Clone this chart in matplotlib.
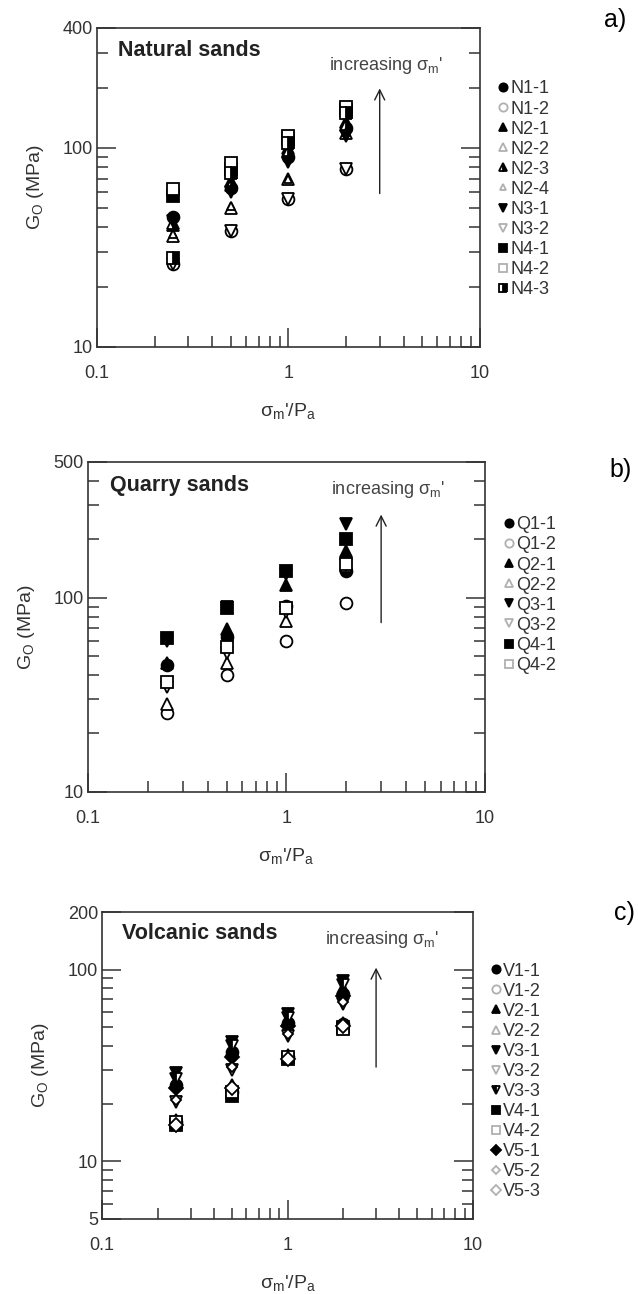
import matplotlib

matplotlib.use("Agg")
import matplotlib.pyplot as plt
from matplotlib.ticker import FixedLocator, FixedFormatter, NullFormatter

plt.rcParams.update({
    "font.family": ["Liberation Sans", "DejaVu Sans"],
    "mathtext.fontset": "custom",
    "mathtext.rm": "Liberation Sans",
    "mathtext.it": "Liberation Sans:italic",
    "mathtext.bf": "Liberation Sans:bold",
})

# normalised mean effective stress
stress = [0.25, 0.5, 1, 2]

# a) natural sands
nat_names = ["N1-1", "N1-2", "N2-1", "N2-2", "N2-3", "N2-4", "N3-1", "N3-2", "N4-1", "N4-2", "N4-3"]
nat_kinds = ["o_f", "o_e", "^_f", "^_e", "^_h", "^_s", "v_f", "v_e", "s_f", "s_e", "s_h"]
nat_go = [
    [45, 63, 90, 125],
    [26, 38, 55, 78],
    [41, 68, 100, 135],
    [36, 50, 70, 118],
    [42, 65, 95, 130],
    [37, 51, 70, 120],
    [43, 60, 85, 115],
    [26, 38, 55, 78],
    [57, 78, 110, 155],
    [62, 84, 114, 160],
    [28, 75, 105, 150],
]

# b) quarry sands
qua_names = ["Q1-1", "Q1-2", "Q2-1", "Q2-2", "Q3-1", "Q3-2", "Q4-1", "Q4-2"]
qua_kinds = ["o_f", "o_e", "^_f", "^_e", "v_f", "v_e", "s_f", "s_e"]
qua_go = [
    [45, 63, 91, 138],
    [25.5, 40, 60, 94],
    [46, 69, 116, 175],
    [28.5, 46, 76, 145],
    [60, 90, 133, 240],
    [34.5, 52, 84, 148],
    [62, 88, 138, 200],
    [37, 56, 88, 150],
]

# c) volcanic sands
vol_names = ["V1-1", "V1-2", "V2-1", "V2-2", "V3-1", "V3-2", "V3-3", "V4-1", "V4-2", "V5-1", "V5-2", "V5-3"]
vol_kinds = ["o_f", "o_e", "^_f", "^_e", "v_f", "v_e", "v_h", "s_f", "s_e", "D_f", "D_s", "D_e"]
vol_go = [
    [25, 37, 53, 75],
    [16, 23, 35, 52],
    [26, 38, 55, 80],
    [16.5, 25, 36, 53],
    [29, 42, 59, 87],
    [20.5, 30, 45, 66],
    [27, 40, 56, 83],
    [15.5, 22, 34, 50],
    [16, 23, 35, 49],
    [24, 35, 51, 73],
    [21, 31, 46, 68],
    [15.5, 24, 34, 51],
]


def style(kind):
    m, f = kind.split("_")
    kw = dict(marker=m, ms=8.5 if m != "D" else 7, mec="black", mew=1.3, ls="none")
    if f == "f":
        kw["mfc"] = "black"
    elif f == "e":
        kw["mfc"] = "white"
    elif f == "s":
        kw.update(mfc="white", ms=kw["ms"] * 0.75)
    elif f == "h":
        kw.update(mfc="black", fillstyle="left" if m == "v" else "right", markerfacecoloralt="white")
    return kw


def panel(ax, names, kinds, values, ylim, ymajor, yminor, title, arrow):
    for name, kind, vals in zip(names, kinds, values):
        ax.plot(stress, vals, label=name, **style(kind))
    ax.set_xscale("log")
    ax.set_yscale("log")
    ax.set_xlim(0.1, 10)
    ax.set_ylim(*ylim)

    ax.xaxis.set_major_locator(FixedLocator([0.1, 1, 10]))
    ax.xaxis.set_major_formatter(FixedFormatter(["0.1", "1", "10"]))
    ax.xaxis.set_minor_locator(FixedLocator([0.2, 0.3, 0.4, 0.5, 0.6, 0.7, 0.8, 0.9,
                                             2, 3, 4, 5, 6, 7, 8, 9]))
    ax.xaxis.set_minor_formatter(NullFormatter())
    ax.yaxis.set_major_locator(FixedLocator(ymajor))
    ax.yaxis.set_major_formatter(FixedFormatter([str(v) for v in ymajor]))
    ax.yaxis.set_minor_locator(FixedLocator(yminor))
    ax.yaxis.set_minor_formatter(NullFormatter())

    ax.tick_params(which="both", direction="in", right=True, top=False, color="#333333", width=1.1)
    ax.tick_params(which="major", length=14, labelsize=13, labelcolor="#333333")
    ax.tick_params(which="minor", length=8)
    ax.tick_params(axis="x", which="major", pad=13)
    ax.tick_params(axis="y", which="major", pad=3)
    for s in ax.spines.values():
        s.set_linewidth(1.2)
        s.set_color("#333333")

    ax.set_ylabel(r"G$_\mathrm{O}$ (MPa)", fontsize=14, color="#333333", labelpad=12)
    ax.set_xlabel(r"σ$_\mathrm{m}$'/P$_\mathrm{a}$", fontsize=14, color="#333333", labelpad=14)
    ax.text(0.055, 0.93, title, transform=ax.transAxes, fontsize=15.5, fontweight="bold",
            color="#222222", va="center")

    x0, y_lo, y_hi, y_txt = arrow
    ax.annotate("", xy=(x0, y_hi), xytext=(x0, y_lo),
                arrowprops=dict(arrowstyle="->", lw=1.0, color="#222222", mutation_scale=18))
    ax.text(x0 * 1.08, y_txt, r"increasing σ$_\mathrm{m}$'", fontsize=13, color="#444444",
            ha="center", va="center")

    leg = ax.legend(loc="upper left", bbox_to_anchor=(1.05, 0.835), frameon=False, fontsize=13,
                    handlelength=0.5, handletextpad=0.15, labelspacing=0.17, borderaxespad=0,
                    borderpad=0, markerscale=0.7, labelcolor="#333333")
    for h in leg.legend_handles:
        if h.get_markerfacecolor() == "white":
            h.set_markeredgecolor("#b0b0b0")


W, H = 638, 1294
fig = plt.figure(figsize=(W / 100, H / 100), dpi=100)
ax_a = fig.add_axes([0.152, 0.732, 0.600, 0.2465])
ax_b = fig.add_axes([0.138, 0.388, 0.622, 0.255])
ax_c = fig.add_axes([0.160, 0.058, 0.5815, 0.2372])

panel(ax_a, nat_names, nat_kinds, nat_go, (10, 400), [10, 100, 400],
      [20, 30, 40, 50, 60, 70, 80, 90, 200, 300], "Natural sands", (3, 57, 205, 258))
panel(ax_b, qua_names, qua_kinds, qua_go, (10, 500), [10, 100, 500],
      [20, 30, 40, 50, 60, 70, 80, 90, 200, 300, 400], "Quarry sands", (3, 72, 277, 359))
panel(ax_c, vol_names, vol_kinds, vol_go, (5, 200), [5, 10, 100, 200],
      [6, 7, 8, 9, 20, 30, 40, 50, 60, 70, 80, 90], "Volcanic sands", (3, 30, 106, 143))

# panel letters
for letter, px, py in [("a)", 604, 20), ("b)", 609, 470), ("c)", 614, 913)]:
    fig.text(px / W, 1 - py / H, letter, fontsize=18, ha="left", va="center")

fig.savefig("out.png", dpi=100)
